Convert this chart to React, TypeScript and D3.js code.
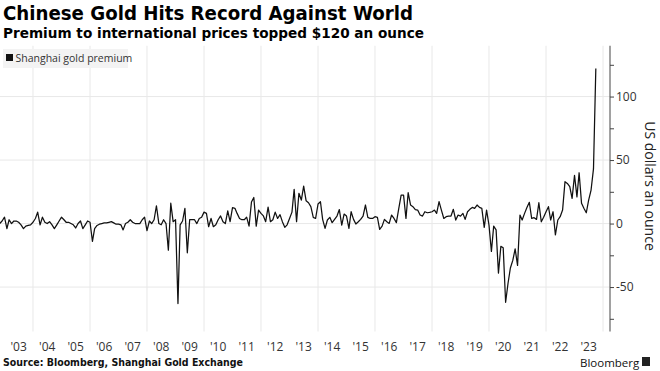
import React, { useRef, useEffect } from "react";
import * as d3 from "d3";

// monthly Shanghai premium, US$/oz, starting Nov 2002
const START = new Date(2002, 10, 1);
const PREMIUM = [
  0, 2, 5, -4, 3, 0, 2, 2, 1, -1, -4, -2, -1.5, -1, 1, 4, 9, -1, 5, 1,
  0, 1.5, -1, -4, -1, 2, 5, 3, 1, 1, 0, -1, -3.5, 0, 2, -4, -1, 2, 1, -14,
  -4, -1.5, -0.5, 0, 0.5, 0.5, 1, 1.5, 0.5, -0.5, -0.5, -1, -5, 0, 1, 3, 1, 0, 0, 0,
  3, 5, -5.5, 2, 0, 3, 14, 0, -1, 3, 0, -21, 16, 1.5, 3, -63, -1, 2, 12, -23,
  3, 3, 3, 0, 4, 5, 9, 8, -2.5, 4, -2.5, -1, 3, 6, 1.5, 0, 10, 1.5, 12.5, 12,
  8, 4, 3, 3, 5, -2, 17, 20.5, -2, 10.5, 8, 6, 1.5, 13, 1.5, 3, 9, 4, 7, 1.5,
  -3, -1, 4, 9, 27, 1.5, 23.8, 18.5, 29.5, 18, 16.4, 13.3, 4.9, 4, 15.4, 17.2, 3.3, -3.8, 2.8, 4.9,
  0.7, 3.3, 5.9, 11, -1.2, 7.5, 5.9, -3.8, 9.3, 3.3, -0.4, 1.4, 3.3, 5.9, 14.6, 4.9, 4, 4, 5.4, 4.9,
  -4.6, -2, 3.3, 1.4, 0.1, 6.7, 4, 0.7, 12, 22.4, 22.4, 4, 24.3, 14.6, 13.3, 11, 10.6, 6.7, 5.9, 9.3,
  8.5, 8.8, 9.3, 10.6, 8, 17.2, 10.6, 4, 5.4, 5.9, 5.9, 11.2, 2.8, 6.7, 5.9, 8, 3.3, 9.3, 11.2, 12.7,
  12, 14.6, 12.7, 12, -3, 10.6, -1.2, -22, -2, -5, -39, -18, -19, -62, -47, -35, -29, -20, -33, 6.7,
  2.8, 8, 12.7, 16.7, 4, 4.6, 3.3, 16.4, 1.4, 4.9, 9.3, 13.3, 2.8, 9.3, -9, 2.8, 5.4, 10.6, 33, 31.6,
  29, 19.8, 38, 21, 40, 15.9, 12, 8.5, 18.5, 26.4, 43, 122,
];
const YEARS = d3.range(2003, 2024);
const GRID_YEARS = d3.range(2004, 2025, 2);
const Y_TICKS = [-75, -50, -25, 0, 25, 50, 75, 100, 125];
const Y_LABELS = [-50, 0, 50, 100];

const W = 660;
const H = 371;
const FONT = "'Open Sans', 'Noto Sans', sans-serif";
const BOLD = "'DejaVu Sans', 'Liberation Sans', sans-serif";

export default function App() {
  const ref = useRef<SVGGElement | null>(null);

  useEffect(() => {
    if (!ref.current) return;
    const g = d3.select(ref.current);
    g.selectAll("*").remove();

    const x = d3
      .scaleTime()
      .domain([new Date(2003, 0, 1), new Date(2024, 0, 1)])
      .range([4.5, 603]);
    const y = d3.scaleLinear().domain([-85, 140]).range([331.5, 45.75]);
    const axisX = 610;

    // grid
    g.append("g")
      .selectAll("line")
      .data(GRID_YEARS)
      .join("line")
      .attr("x1", (d) => x(new Date(d, 0, 1)))
      .attr("x2", (d) => x(new Date(d, 0, 1)))
      .attr("y1", y(140))
      .attr("y2", y(-85))
      .attr("stroke", "#e8e8e8")
      .attr("stroke-width", 1);

    g.append("g")
      .selectAll("line")
      .data(Y_LABELS)
      .join("line")
      .attr("x1", 0)
      .attr("x2", axisX)
      .attr("y1", (d) => y(d))
      .attr("y2", (d) => y(d))
      .attr("stroke", "#e8e8e8")
      .attr("stroke-width", 1);

    // legend
    const legend = g.append("g");
    legend
      .append("rect")
      .attr("x", 3)
      .attr("y", 49)
      .attr("width", 125)
      .attr("height", 19)
      .attr("fill", "#f3f3f3");
    legend
      .append("rect")
      .attr("x", 6)
      .attr("y", 54)
      .attr("width", 7)
      .attr("height", 7)
      .attr("fill", "#111");
    legend
      .append("text")
      .attr("x", 15.5)
      .attr("y", 61.5)
      .attr("font-family", FONT)
      .attr("font-size", 10.5)
      .attr("fill", "#333")
      .text("Shanghai gold premium");

    // line
    const pts = PREMIUM.map((v, i) => [d3.timeMonth.offset(START, i), v] as [Date, number]);
    const line = d3
      .line<[Date, number]>()
      .x((d) => x(d[0]))
      .y((d) => y(d[1]));
    g.append("path")
      .datum(pts)
      .attr("fill", "none")
      .attr("stroke", "#111")
      .attr("stroke-width", 1.25)
      .attr("stroke-linejoin", "round")
      .attr("d", line as never);

    // right axis
    const yAxis = g
      .append("g")
      .attr("transform", `translate(${axisX},0)`)
      .call(
        d3
          .axisRight(y)
          .tickValues(Y_TICKS)
          .tickSize(4)
          .tickPadding(2)
          .tickFormat((d) => (Y_LABELS.includes(+d) ? String(d) : ""))
      );
    yAxis.select(".domain").attr("stroke", "#444").attr("d", `M0,${y(140)}V${y(-85)}`);
    yAxis.selectAll("line").attr("stroke", "#444");
    yAxis
      .selectAll("text")
      .attr("font-family", FONT)
      .attr("font-size", 12)
      .attr("fill", "#333");

    // year labels
    g.append("g")
      .selectAll("text")
      .data(YEARS)
      .join("text")
      .attr("x", (d) => x(new Date(d, 6, 1)))
      .attr("y", 351)
      .attr("text-anchor", "middle")
      .attr("font-family", FONT)
      .attr("font-size", 12)
      .attr("fill", "#333")
      .text((d) => "'" + String(d).slice(2));

    g.append("text")
      .attr("transform", `translate(645,186) rotate(90)`)
      .attr("text-anchor", "middle")
      .attr("font-family", FONT)
      .attr("font-size", 14)
      .attr("fill", "#222")
      .text("US dollars an ounce");
  }, []);

  return (
    <div style={{ position: "absolute", left: 0, top: 0, background: "#fff" }}>
      <svg width={W} height={H} style={{ display: "block" }}>
        <rect width={W} height={H} fill="#fff" />
        <text x={3} y={20} fontFamily={BOLD} fontWeight={700} fontSize={19.5} fill="#000" textLength={410} lengthAdjust="spacingAndGlyphs">
          Chinese Gold Hits Record Against World
        </text>
        <text x={3} y={37.5} fontFamily={BOLD} fontWeight={700} fontSize={14.5} fill="#000" textLength={421} lengthAdjust="spacingAndGlyphs">
          Premium to international prices topped $120 an ounce
        </text>
        <g ref={ref} />
        <text x={3} y={366} fontFamily={BOLD} fontWeight={700} fontSize={10.5} fill="#111" textLength={240} lengthAdjust="spacingAndGlyphs">
          Source: Bloomberg, Shanghai Gold Exchange
        </text>
        <text x={580} y={366.5} fontFamily={FONT} fontSize={11.5} fill="#111">
          Bloomberg
        </text>
        <rect x={642} y={357} width={8} height={9} fill="#222" />
      </svg>
    </div>
  );
}
